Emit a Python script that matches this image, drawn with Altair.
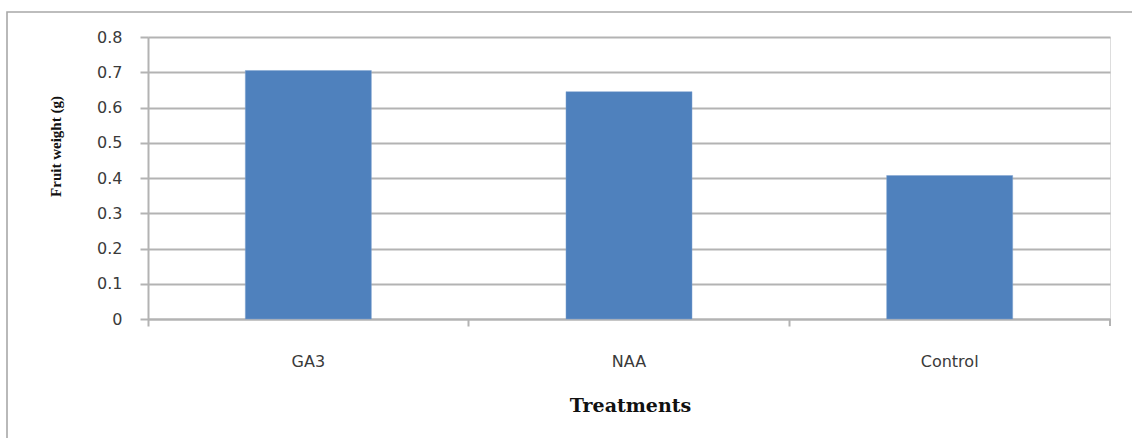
import altair as alt
import pandas as pd

treatments = ["GA3", "NAA", "Control"]
fruit_weight = [0.705, 0.645, 0.407]
y_ticks = [0, 0.1, 0.2, 0.3, 0.4, 0.5, 0.6, 0.7, 0.8]

df = pd.DataFrame({"Treatment": treatments, "Weight": fruit_weight})

W, H = 962, 282
GRID = "#b3b3b3"
P_IN, P_OUT = 0.607, 0.3035
step = W / (len(treatments) - P_IN + 2 * P_OUT)
band = step * (1 - P_IN)
tick_band_pos = -(P_IN / 2) * step / band

border = alt.Chart(pd.DataFrame({"a": [0]})).mark_rect(
    fill=None, fillOpacity=0, stroke="#a8a8a8", strokeWidth=1.6
).encode(
    x=alt.value(-141), x2=alt.value(1000), y=alt.value(-25), y2=alt.value(420)
)

end_tick = alt.Chart(pd.DataFrame({"a": [0]})).mark_rule(
    color=GRID, strokeWidth=2
).encode(x=alt.value(W), y=alt.value(H), y2=alt.value(H + 7))

bars = alt.Chart(df).mark_bar(
    color="#4f81bd", stroke="#7fa3d0", strokeWidth=0.8, strokeOpacity=0.6
).encode(
    x=alt.X(
        "Treatment:N",
        sort=treatments,
        scale=alt.Scale(paddingInner=P_IN, paddingOuter=P_OUT),
        axis=alt.Axis(
            title="Treatments",
            labelAngle=0,
            bandPosition=tick_band_pos,
            labelFont="DejaVu Sans",
            labelFontSize=16,
            labelColor="#3a3a3a",
            labelPadding=27,
            tickSize=7,
            tickColor=GRID,
            tickWidth=2,
            domainColor=GRID,
            domainWidth=2,
            grid=False,
            titleFont="DejaVu Serif",
            titleFontSize=19,
            titleFontWeight="bold",
            titleColor="#111111",
            titleBaseline="middle",
            titleX=W / 2 + 1,
            titleY=86,
        ),
    ),
    y=alt.Y(
        "Weight:Q",
        scale=alt.Scale(domain=[0, 0.8], nice=False),
        axis=alt.Axis(
            title="Fruit weight (g)",
            values=y_ticks,
            format="~g",
            labelFont="DejaVu Sans",
            labelFontSize=16,
            labelColor="#3a3a3a",
            labelPadding=18,
            tickSize=8,
            tickColor=GRID,
            tickWidth=2,
            domainColor=GRID,
            domainWidth=2,
            grid=True,
            gridColor=GRID,
            gridWidth=2,
            titleFont="Liberation Serif",
            titleFontSize=15,
            titleFontWeight="bold",
            titleColor="#111111",
            titleAngle=270,
            titleBaseline="middle",
            titleAlign="center",
            titleX=-93,
            titleY=109,
        ),
    ),
)

chart = alt.layer(border, bars, end_tick).properties(
    width=W,
    height=H,
    autosize=alt.AutoSizeParams(type="none"),
    padding={"left": 148, "top": 37, "right": 22, "bottom": 119},
).configure_view(stroke=None).configure(background="white")

chart.save("out.html", embed_options={"renderer": "svg", "actions": False})
